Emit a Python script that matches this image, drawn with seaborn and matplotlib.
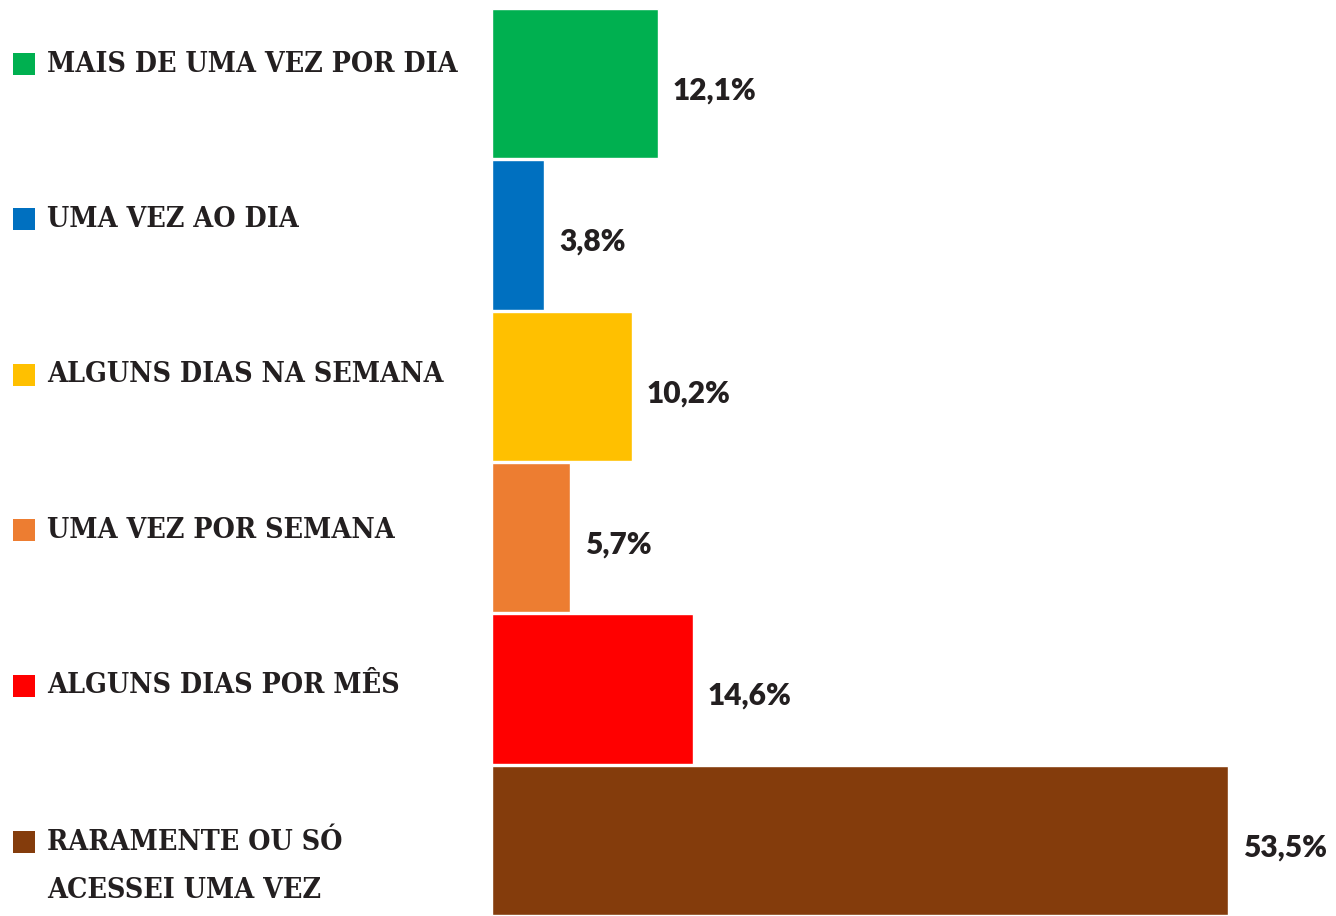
import matplotlib
matplotlib.use("Agg")
import matplotlib.pyplot as plt
from matplotlib.patches import Rectangle
import seaborn as sns
import pandas as pd

# Frequency categories and their shares (%)
categories = [
    "MAIS DE UMA VEZ POR DIA",
    "UMA VEZ AO DIA",
    "ALGUNS DIAS NA SEMANA",
    "UMA VEZ POR SEMANA",
    "ALGUNS DIAS POR MÊS",
    "RARAMENTE OU SÓ\nACESSEI UMA VEZ",
]
values = [12.1, 3.8, 10.2, 5.7, 14.6, 53.5]
value_labels = ["12,1%", "3,8%", "10,2%", "5,7%", "14,6%", "53,5%"]
colors = ["#00b050", "#0070c0", "#ffc000", "#ed7d31", "#ff0000", "#843c0c"]

TEXT = "#231f20"
W, H = 1336, 916

sns.set_style("white")
fig = plt.figure(figsize=(W / 100, H / 100), dpi=100)
fig.patch.set_facecolor("white")

# Bar area: from x=492px to the right edge, y from 10px to the bottom
ax = fig.add_axes([492 / W, 0, 1 - 492 / W, (H - 8) / H])
df = pd.DataFrame({"cat": categories, "val": values})
sns.barplot(data=df, y="cat", x="val", hue="cat", palette=colors,
            orient="h", width=0.988, saturation=1, legend=False, ax=ax)
px_per_unit = (1228 - 492) / 53.5
ax.set_xlim(0, (W - 492) / px_per_unit)
ax.set_ylim(5.5, -0.5)
ax.axis("off")

# Value labels to the right of each bar
for i, (v, lab) in enumerate(zip(values, value_labels)):
    ax.annotate(lab, xy=(v, i), xytext=(10.5, -5), textcoords="offset points",
                ha="left", va="center", fontsize=21.5, fontweight="heavy",
                family=["Lato", "DejaVu Sans"], color=TEXT)

# Category labels with colored square markers on the left
label_font = dict(fontsize=20.4, fontweight="bold", fontstretch="condensed",
                  family=["DejaVu Serif"], color=TEXT)
for i, (cat, col) in enumerate(zip(categories, colors)):
    yc = 64 + 155.4 * i
    if "\n" in cat:
        first_y = 841
        fig.text(47 / W, 1 - (first_y + 25.5) / H, cat, ha="left", va="center",
                 linespacing=2.0, **label_font)
        sq_y = first_y + 1
    else:
        fig.text(47 / W, 1 - yc / H, cat, ha="left", va="center", **label_font)
        sq_y = yc
    fig.patches.append(Rectangle((13 / W, 1 - (sq_y + 11) / H), 22 / W, 22 / H,
                                 transform=fig.transFigure, facecolor=col,
                                 edgecolor="none"))

fig.savefig("out.png", dpi=100, facecolor="white")
